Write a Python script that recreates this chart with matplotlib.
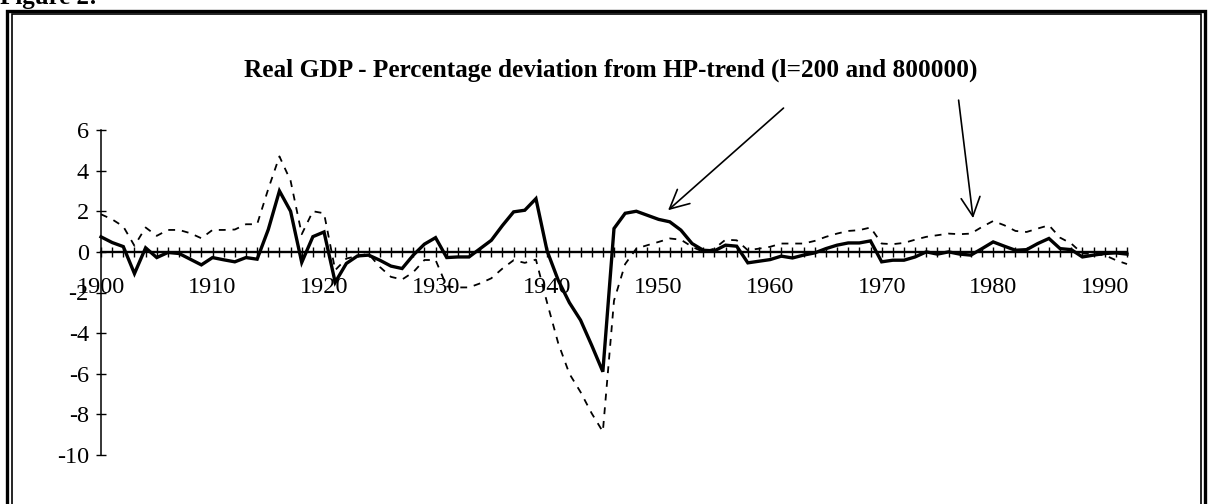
import numpy as np
import matplotlib
matplotlib.use('Agg')
import matplotlib.pyplot as plt
from matplotlib.patches import Rectangle
from matplotlib.ticker import MultipleLocator, FuncFormatter

# real GDP, percentage deviation from HP-trend
years = list(range(1900, 1993))
dev_l200 = [0.74, 0.46, 0.26, -1.07, 0.2, -0.28, -0.03, -0.08, -0.36, -0.64,
            -0.28, -0.39, -0.49, -0.28, -0.36, 1.1, 3.0, 2.0, -0.52, 0.75,
            0.98, -1.5, -0.57, -0.2, -0.16, -0.41, -0.7, -0.82, -0.16, 0.38,
            0.7, -0.28, -0.25, -0.25, 0.16, 0.57, 1.3, 1.97, 2.05, 2.62,
            0.05, -1.4, -2.5, -3.36, -4.6, -5.9, 1.15, 1.9, 2.0, 1.8,
            1.6, 1.48, 1.07, 0.41, 0.08, 0.05, 0.33, 0.28, -0.54, -0.46,
            -0.38, -0.21, -0.3, -0.16, -0.05, 0.16, 0.33, 0.44, 0.44, 0.54,
            -0.49, -0.41, -0.41, -0.25, 0.0, -0.11, 0.0, -0.11, -0.16, 0.16,
            0.49, 0.28, 0.08, 0.11, 0.41, 0.66, 0.16, 0.11, -0.25, -0.16,
            -0.08, -0.05, -0.11]
dev_l800000 = [1.85, 1.6, 1.25, 0.3, 1.2, 0.79, 1.08, 1.08, 0.92, 0.67,
               1.08, 1.08, 1.1, 1.36, 1.36, 3.1, 4.7, 3.5, 0.87, 2.0,
               1.9, -0.9, -0.33, -0.2, -0.1, -0.74, -1.23, -1.36, -1.0, -0.4,
               -0.4, -1.7, -1.75, -1.75, -1.55, -1.3, -0.82, -0.41, -0.54, -0.38,
               -2.5, -4.5, -6.0, -6.9, -7.95, -8.85, -2.4, -0.6, 0.16, 0.33,
               0.49, 0.66, 0.6, 0.25, 0.0, 0.16, 0.6, 0.57, 0.08, 0.16,
               0.25, 0.41, 0.41, 0.41, 0.54, 0.74, 0.9, 1.03, 1.07, 1.2,
               0.41, 0.38, 0.44, 0.6, 0.74, 0.82, 0.9, 0.87, 0.9, 1.23,
               1.52, 1.31, 1.03, 0.98, 1.15, 1.31, 0.7, 0.41, -0.08, -0.11,
               -0.16, -0.41, -0.6]
yticks = [-10, -8, -6, -4, -2, 0, 2, 4, 6]
title = 'Real GDP - Percentage deviation from HP-trend (l=200 and 800000)'

W, H = 1209, 504
plt.rcParams['font.family'] = ['Liberation Serif', 'DejaVu Serif']


def px(x, y):
    """pixel (from top-left) -> figure fraction"""
    return x / W, 1 - y / H


fig = plt.figure(figsize=(W / 100, H / 100), dpi=100, facecolor='white')
#
# double frame around the chart
x0, y0 = px(6.5, 10.5)
x1, y1 = px(1204.5, 530)
fig.add_artist(Rectangle((x0, y1), x1 - x0, y0 - y1, transform=fig.transFigure,
                         fill=False, lw=2.4, ec='black'))
x0, y0 = px(11.5, 14.5)
x1, y1 = px(1200.5, 530)
fig.add_artist(Rectangle((x0, y1), x1 - x0, y0 - y1, transform=fig.transFigure,
                         fill=False, lw=1.2, ec='black'))
fx, fy = px(0, 4)
fig.text(fx, fy, 'Figure 2:', fontsize=18, fontweight='bold', va='baseline', ha='left')
#
left, top = px(101, 130)
right, bottom = px(1127, 455)
ax = fig.add_axes([left, bottom, right - left, top - bottom])
ax.set_facecolor('none')
ax.plot(years, dev_l200, color='black', lw=2.4, solid_joinstyle='miter', clip_on=False)
ax.plot(years, dev_l800000, color='black', lw=1.3, dashes=(3.8, 3.8), clip_on=False)
ax.set_xlim(1900, 1992)
ax.set_ylim(-10, 6)
#
for s in ['top', 'right']:
    ax.spines[s].set_visible(False)
ax.spines['bottom'].set_position(('data', 0))
ax.spines['bottom'].set_linewidth(1.7)
ax.spines['left'].set_linewidth(1.1)
ax.xaxis.set_major_locator(MultipleLocator(1))
ax.xaxis.set_major_formatter(FuncFormatter(lambda v, p: '%d' % v if int(round(v)) % 10 == 0 else ''))
ax.set_yticks(yticks)
ax.set_yticklabels(['%d' % v for v in yticks])
ax.tick_params(axis='x', direction='inout', length=6.5, width=1.0, pad=14.5, labelsize=17.5)
ax.tick_params(axis='y', direction='inout', length=7.5, width=1.0, pad=5, labelsize=17.5)
#
tx, ty = px(611, 70)
fig.text(tx, ty, title, fontsize=18.2, fontweight='bold', ha='center', va='center')
#
arrow = dict(arrowstyle='->', color='black', lw=1.2, mutation_scale=34, shrinkA=0, shrinkB=0)
ax.annotate('', xy=(1950.85, 2.05), xytext=(1961.2, 7.08), arrowprops=arrow, annotation_clip=False)
ax.annotate('', xy=(1978.2, 1.66), xytext=(1976.9, 7.47), arrowprops=arrow, annotation_clip=False)
#
fig.savefig('out.png', dpi=100, facecolor='white')
